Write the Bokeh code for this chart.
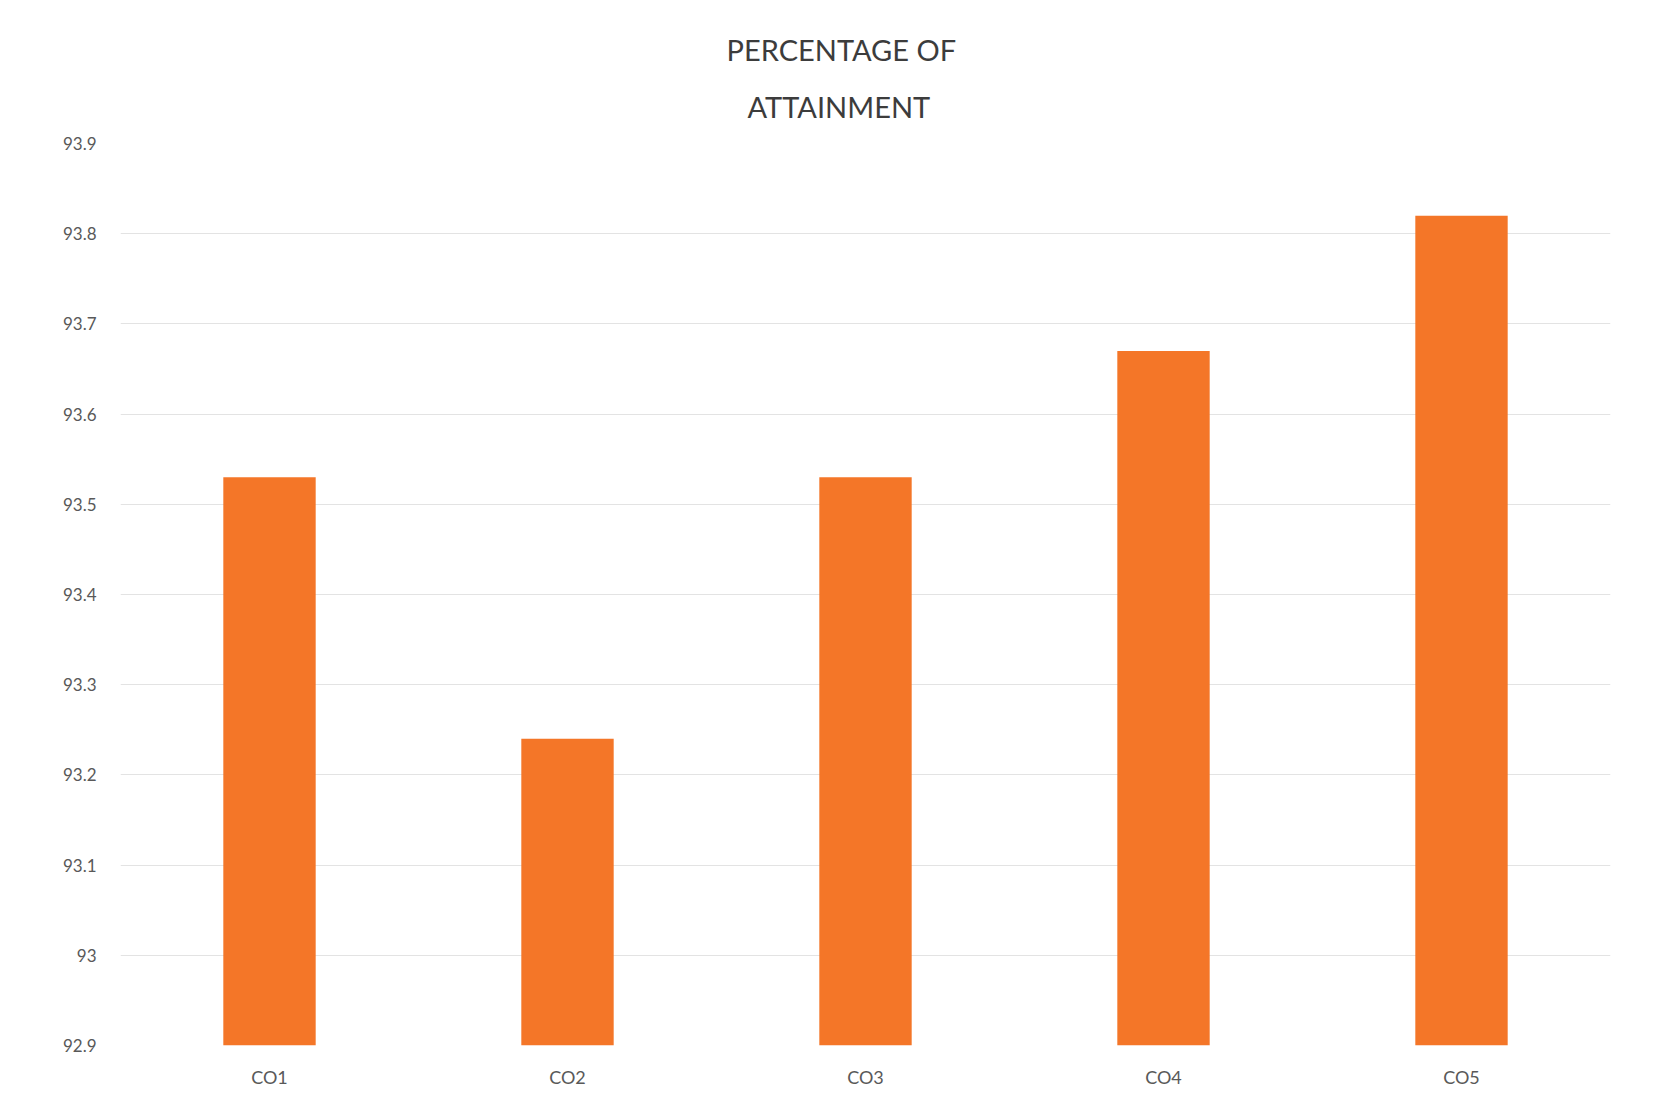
from bokeh.plotting import figure
from bokeh.models import FixedTicker, Range1d, Title
from bokeh.embed import file_html
from bokeh.resources import INLINE

categories = ["CO1", "CO2", "CO3", "CO4", "CO5"]
attainment = [93.53, 93.24, 93.53, 93.67, 93.82]
y_ticks = [92.9, 93.0, 93.1, 93.2, 93.3, 93.4, 93.5, 93.6, 93.7, 93.8, 93.9]
y_tick_labels = ["92.9", "93", "93.1", "93.2", "93.3", "93.4", "93.5", "93.6", "93.7", "93.8", "93.9"]
title_lines = ["PERCENTAGE OF", "ATTAINMENT"]

FONT = "Lato"

p = figure(x_range=categories, y_range=Range1d(92.9, 93.9),
           width=1640, height=1090, output_backend="svg", toolbar_location=None,
           title=None,
           min_border_left=120, min_border_right=30, min_border_top=143, min_border_bottom=35)

p.vbar(x=categories, top=attainment, bottom=92.9, width=0.31,
       fill_color="#F47628", line_color=None)

# later-added titles sit further from the frame
title_offsets = [606, 627]
title_standoffs = [0, 40]
for line, off, so in reversed(list(zip(title_lines, title_offsets, title_standoffs))):
    t = Title(text=line, align="left", offset=off, text_font=FONT, text_font_size="29px",
              text_font_style="normal", text_color="#3C3C3C", standoff=so,
              text_line_height=0.75)
    p.add_layout(t, "above")

p.yaxis.ticker = FixedTicker(ticks=y_ticks)
p.yaxis.major_label_overrides = {t: l for t, l in zip(y_ticks, y_tick_labels)}
for ax in (p.xaxis, p.yaxis):
    ax.axis_line_color = None
    ax.major_tick_line_color = None
    ax.minor_tick_line_color = None
    ax.major_label_text_font = FONT
    ax.major_label_text_color = "#595959"
p.yaxis.major_label_text_font_size = "17px"
p.xaxis.major_label_text_font_size = "18px"
p.yaxis.major_label_standoff = 18
p.xaxis.major_label_standoff = 14

p.xgrid.grid_line_color = None
p.ygrid.grid_line_color = "#E3E3E3"
p.ygrid.grid_line_width = 1
p.outline_line_color = None
p.background_fill_color = "white"
p.border_fill_color = "white"

open("out.html", "w").write(file_html(p, INLINE))
